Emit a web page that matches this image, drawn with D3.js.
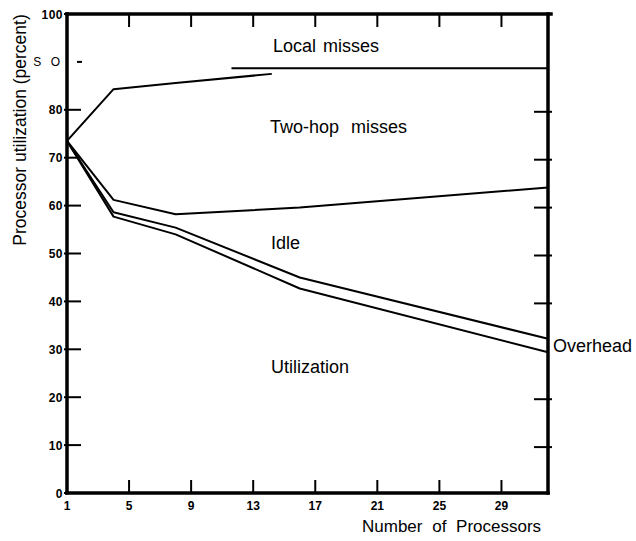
<!DOCTYPE html>
<html>
<head>
<meta charset="utf-8">
<script src="https://cdn.jsdelivr.net/npm/d3@7"></script>
<style>
  body { margin: 0; background: #fff; }
  svg { display: block; font-family: Arial, "Liberation Sans", Helvetica, sans-serif; }
</style>
</head>
<body>
<svg id="chart" width="636" height="541"></svg>
<script>
// processors on x, percent on y
const xTicks = [1, 5, 9, 13, 17, 21, 25, 29];
const yTicks = [0, 10, 20, 30, 40, 50, 60, 70, 80, 90, 100];
const yTickLabels = ["0", "10", "20", "30", "40", "50", "60", "70", "80", "S O", "100"];
const rightTicks = [10, 20, 40, 50, 60, 70, 80];

// stacked boundaries
const localLowX = [1, 4, 8, 14.2];
const localLowY = [73.5, 84.3, 85.6, 87.5];
const localFlatX = [11.6, 32];
const localFlatY = [88.7, 88.7];
const twoHopLowX = [1, 4, 8, 16, 32];
const twoHopLowY = [73.5, 61.2, 58.2, 59.6, 63.8];
const idleLowX = [1, 4, 8, 16, 32];
const idleLowY = [73.5, 58.6, 55.4, 45.0, 32.2];
const overheadLowX = [1, 4, 8, 16, 32];
const overheadLowY = [73.5, 57.7, 54.0, 42.7, 29.4];

const regionLabels = ["Local misses", "Two-hop misses", "Idle", "Utilization", "Overhead"];

const svg = d3.select("#chart");
const x = d3.scaleLinear().domain([1, 32]).range([67, 548]);
const y = d3.scaleLinear().domain([0, 100]).range([493, 14]);

const toPts = (xs, ys) => xs.map((v, i) => [v, ys[i]]);
const line = d3.line().x(d => x(d[0])).y(d => y(d[1]));

const series = [
    toPts(localLowX, localLowY),
    toPts(localFlatX, localFlatY),
    toPts(twoHopLowX, twoHopLowY),
    toPts(idleLowX, idleLowY),
    toPts(overheadLowX, overheadLowY)
];

svg.append("g")
    .selectAll("path")
    .data(series)
    .enter()
    .append("path")
    .attr("d", line)
    .attr("fill", "none")
    .attr("stroke", "#000")
    .attr("stroke-width", 2)
    .attr("stroke-linejoin", "round");

// frame
const frame = svg.append("g").attr("stroke", "#000").attr("stroke-linecap", "square");
frame.append("line").attr("x1", x(1)).attr("x2", x(32) + 3).attr("y1", y(100)).attr("y2", y(100)).attr("stroke-width", 3.5);
frame.append("line").attr("x1", x(1)).attr("x2", x(32)).attr("y1", y(0)).attr("y2", y(0)).attr("stroke-width", 3.5);
frame.append("line").attr("x1", x(1)).attr("x2", x(1)).attr("y1", y(100)).attr("y2", y(0)).attr("stroke-width", 3.5);
frame.append("line").attr("x1", x(32)).attr("x2", x(32)).attr("y1", y(100)).attr("y2", y(0)).attr("stroke-width", 3.5);

// ticks
const ticks = svg.append("g").attr("stroke", "#000").attr("stroke-width", 2);
ticks.selectAll(".tb").data(xTicks.slice(1)).enter().append("line")
    .attr("x1", d => x(d)).attr("x2", d => x(d))
    .attr("y1", y(0)).attr("y2", y(0) - 13);
ticks.selectAll(".tt").data(xTicks.slice(1)).enter().append("line")
    .attr("x1", d => x(d)).attr("x2", d => x(d))
    .attr("y1", y(100)).attr("y2", y(100) + 13);
ticks.selectAll(".tl").data(yTicks.filter(d => d !== 90)).enter().append("line")
    .attr("x1", x(1) - 3).attr("x2", x(1) + 14)
    .attr("y1", d => y(d)).attr("y2", d => y(d));
ticks.append("line")
    .attr("x1", x(1) + 10).attr("x2", x(1) + 15)
    .attr("y1", y(90)).attr("y2", y(90));
ticks.selectAll(".tr").data(rightTicks).enter().append("line")
    .attr("x1", x(32) - 14).attr("x2", x(32) + 4)
    .attr("y1", d => y(d) + 2).attr("y2", d => y(d) + 2);

// tick labels
svg.append("g")
    .selectAll("text")
    .data(yTicks)
    .enter()
    .append("text")
    .attr("x", x(1) - 4)
    .attr("y", d => y(d) + 4.5)
    .attr("text-anchor", "end")
    .attr("font-size", (d, i) => yTickLabels[i] === "S O" ? 12 : 12)
    .attr("font-weight", (d, i) => yTickLabels[i] === "S O" ? "normal" : "bold")
    .attr("letter-spacing", (d, i) => yTickLabels[i] === "S O" ? 3 : 0.5)
    .text((d, i) => yTickLabels[i]);

svg.append("g")
    .selectAll("text")
    .data(xTicks)
    .enter()
    .append("text")
    .attr("x", d => x(d))
    .attr("y", y(0) + 17)
    .attr("text-anchor", "middle")
    .attr("font-size", 12)
    .attr("font-weight", "bold")
    .text(d => d);

// region labels
const labelPos = [[273, 52], [270, 133], [271, 249], [271, 373], [553, 352]];
const labelSpacing = [2, 7, 0, 0, 0];
svg.append("g")
    .selectAll("text")
    .data(regionLabels)
    .enter()
    .append("text")
    .attr("x", (d, i) => labelPos[i][0])
    .attr("y", (d, i) => labelPos[i][1])
    .attr("font-size", 18)
    .attr("word-spacing", (d, i) => labelSpacing[i])
    .text(d => d);

// axis titles
svg.append("text")
    .attr("x", 362)
    .attr("y", 532)
    .attr("font-size", 17)
    .attr("word-spacing", 5)
    .text("Number of Processors");

svg.append("text")
    .attr("transform", "translate(26,130) rotate(-90)")
    .attr("text-anchor", "middle")
    .attr("font-size", 17.5)
    .text("Processor utilization (percent)");
</script>
</body>
</html>
